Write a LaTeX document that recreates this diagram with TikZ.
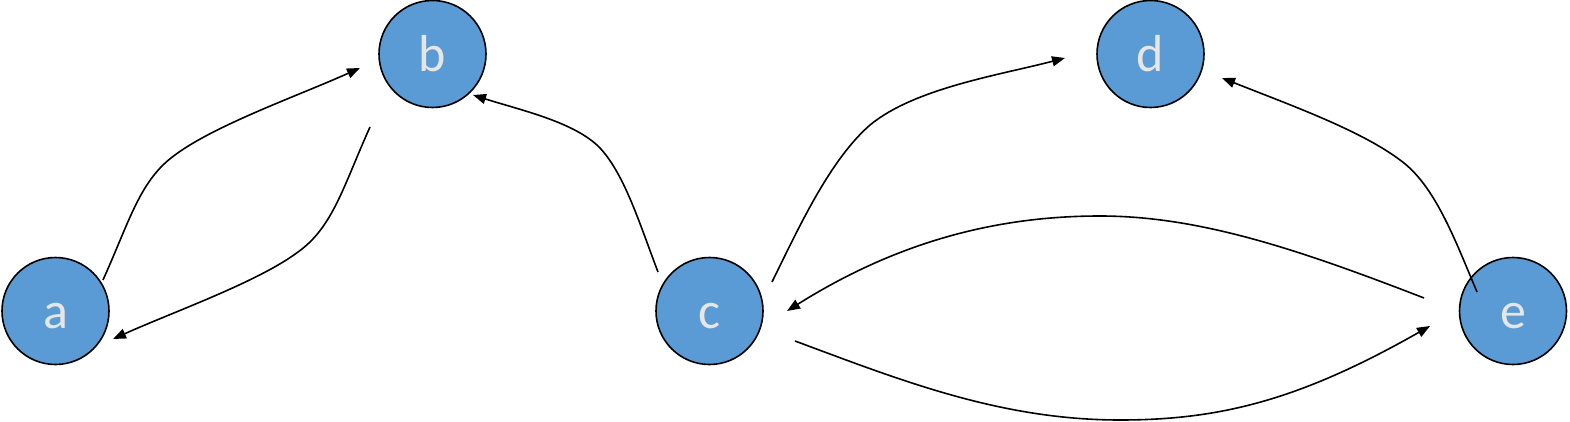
\documentclass[tikz,border=0pt]{standalone}
\usepackage{fontspec}
\setmainfont{Carlito}
\usetikzlibrary{arrows.meta}
\definecolor{nodeblue}{RGB}{91,155,213}
\definecolor{lbl}{RGB}{230,230,230}
\tikzset{
  vertex/.style={circle,draw=black,line width=1.6pt,fill=nodeblue,minimum size=107pt,inner sep=0pt,
    text=lbl,font=\fontsize{52}{52}\selectfont,text height=35pt,text depth=0pt},
  edge/.style={line width=1.6pt,-{Triangle[length=13pt,width=10pt]}}
}
\begin{document}
\begin{tikzpicture}[x=1pt,y=-1pt]
\useasboundingbox (0,0) rectangle (1570,422);
\node [vertex] (a) at (55.5,311) {a};
\node [vertex] (b) at (432.5,54) {b};
\node [vertex] (c) at (709.5,311) {c};
\node [vertex] (d) at (1150.5,54) {d};
\node [vertex] (e) at (1513,311) {e};
% free ends of the curves
\coordinate (ab0) at (103,280);
\coordinate (ab1) at (360,68);
\coordinate (ba0) at (370,127);
\coordinate (ba1) at (113,339);
\coordinate (cb0) at (658,272);
\coordinate (cb1) at (473,95);
\coordinate (cd0) at (772,282);
\coordinate (cd1) at (1065,58);
\coordinate (ed0) at (1477,292);
\coordinate (ed1) at (1222,78);
\coordinate (ec0) at (1424,298);
\coordinate (ec1) at (787,311);
\coordinate (ce0) at (795,341);
\coordinate (ce1) at (1430,326);
\draw [edge] (ab0) .. controls (130,220) and (140,180) .. (175,155) .. controls (215,125) and (300,95) .. (ab1);
\draw [edge] (ba0) .. controls (343,187) and (333,227) .. (298,252) .. controls (258,282) and (173,312) .. (ba1);
\draw [edge] (cb0) .. controls (640,225) and (625,175) .. (600,148) .. controls (575,122) and (520,110) .. (cb1);
\draw [edge] (cd0) .. controls (800,225) and (830,160) .. (870,125) .. controls (915,88) and (1000,75) .. (cd1);
\draw [edge] (ed0) .. controls (1455,240) and (1435,185) .. (1400,160) .. controls (1360,130) and (1290,105) .. (ed1);
\draw [edge] (ec0) .. controls (1300,250) and (1200,216) .. (1100,216) .. controls (1000,216) and (900,240) .. (ec1);
\draw [edge] (ce0) .. controls (900,380) and (1000,420) .. (1120,420) .. controls (1220,420) and (1300,400) .. (ce1);
\end{tikzpicture}
\end{document}
